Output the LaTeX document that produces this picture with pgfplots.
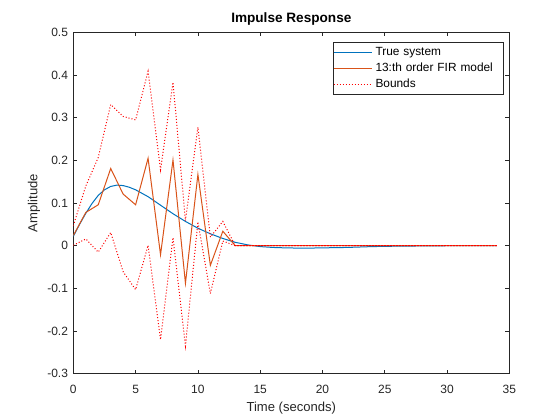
\documentclass[border=0pt]{standalone}
\usepackage{fontspec}
\setmainfont{Liberation Sans}
\usepackage{pgfplots}
\pgfplotsset{compat=1.18}
\definecolor{axgray}{rgb}{0.15,0.15,0.15}
\definecolor{mblue}{rgb}{0,0.447,0.741}
\definecolor{morange}{rgb}{0.85,0.325,0.098}
\begin{document}
\begin{tikzpicture}
\path[use as bounding box] (0,0) rectangle (420pt,315pt);
\begin{axis}[
  at={(55pt,34.7pt)}, anchor=south west,
  width=327pt, height=256pt, scale only axis,
  xmin=0, xmax=35, ymin=-0.3, ymax=0.5,
  xtick={0,5,10,15,20,25,30,35},
  xticklabels={0,5,10,15,20,25,30,35},
  ytick={-0.3,-0.2,-0.1,0,0.1,0.2,0.3,0.4,0.5},
  yticklabels={-0.3,-0.2,-0.1,0,0.1,0.2,0.3,0.4,0.5},
  tick align=inside, major tick length=3pt,
  axis line style={color=axgray, line width=0.55pt},
  every tick/.style={color=axgray, line width=0.55pt},
  tick label style={font=\fontsize{9}{10}\selectfont, text=axgray},
  xticklabel style={anchor=base, inner sep=0pt, yshift=-14.7pt},
  yticklabel style={anchor=east, inner sep=0pt, xshift=-3.8pt},
  title={\textbf{Impulse Response}},
  every axis title/.style={at={(axis description cs:0.5,1)}, anchor=base, yshift=7.5pt, font=\fontsize{10.2}{12}\selectfont, inner sep=0pt},
  xlabel={Time (seconds)},
  every axis x label/.style={at={(axis description cs:0.5,0)}, anchor=base, yshift=-28.5pt, font=\fontsize{9.8}{11}\selectfont, text=axgray, inner sep=0pt},
  ylabel={Amplitude},
  every axis y label/.style={at={(axis description cs:0,0.5)}, rotate=90, anchor=base, yshift=27pt, font=\fontsize{9.8}{11}\selectfont, text=axgray, inner sep=0pt},
  legend style={at={(0.9874,0.9707)}, anchor=north east, draw=axgray, line width=0.5pt, fill=white,
    font=\fontsize{8.9}{10}\selectfont, inner xsep=0pt, inner ysep=1.5pt, row sep=0pt,
    nodes={inner ysep=1.85pt, text height=6.5pt, text depth=1.8pt},
    /tikz/every odd column/.append style={inner xsep=0pt},
    /tikz/every even column/.append style={text width=94pt, align=left, inner xsep=2.8pt}},
  legend cell align=left,
  legend image code/.code={\draw[#1] (2.8pt,0pt) -- (31.8pt,0pt);},
]
\addplot[mblue, line width=0.75pt] coordinates {
(0,0.022) (0.5,0.050) (1,0.076) (1.5,0.099) (2,0.118) (2.5,0.131) (3,0.139) (3.5,0.142)
(4,0.141) (4.5,0.137) (5,0.131) (6,0.115) (7,0.095) (8,0.075) (9,0.057) (10,0.041)
(11,0.028) (12,0.017) (13,0.008) (14,0.002) (15,-0.002) (16,-0.004) (17,-0.005)
(18,-0.0055) (19,-0.0055) (20,-0.005) (21,-0.0045) (22,-0.004) (23,-0.003) (24,-0.002)
(25,-0.0015) (26,-0.001) (28,-0.0005) (30,0) (34,0)};
\addlegendentry{True system}
\addplot[morange, line width=0.75pt] coordinates {
(0,0.024) (1,0.078) (2,0.096) (3,0.181) (4,0.121) (5,0.096) (6,0.205) (7,-0.021)
(8,0.201) (9,-0.088) (10,0.167) (11,-0.046) (12,0.034) (13,0) (34,0)};
\addlegendentry{13:th order FIR model}
\addplot[red, line width=0.75pt, dash pattern=on 0.75pt off 1.5pt] coordinates {
(0,0.047) (1,0.140) (2,0.207) (3,0.331) (4,0.303) (5,0.295) (6,0.409) (7,0.178)
(8,0.383) (9,0.059) (10,0.278) (11,0.020) (12,0.057) (13,0) (34,0)};
\addlegendentry{Bounds}
\addplot[red, line width=0.75pt, dash pattern=on 0.75pt off 1.5pt, forget plot] coordinates {
(0,0.001) (1,0.016) (2,-0.015) (3,0.031) (4,-0.061) (5,-0.103) (6,0.001) (7,-0.220)
(8,0.019) (9,-0.235) (10,0.056) (11,-0.112) (12,0.011) (13,0) (34,0)};
\end{axis}
\end{tikzpicture}
\end{document}
